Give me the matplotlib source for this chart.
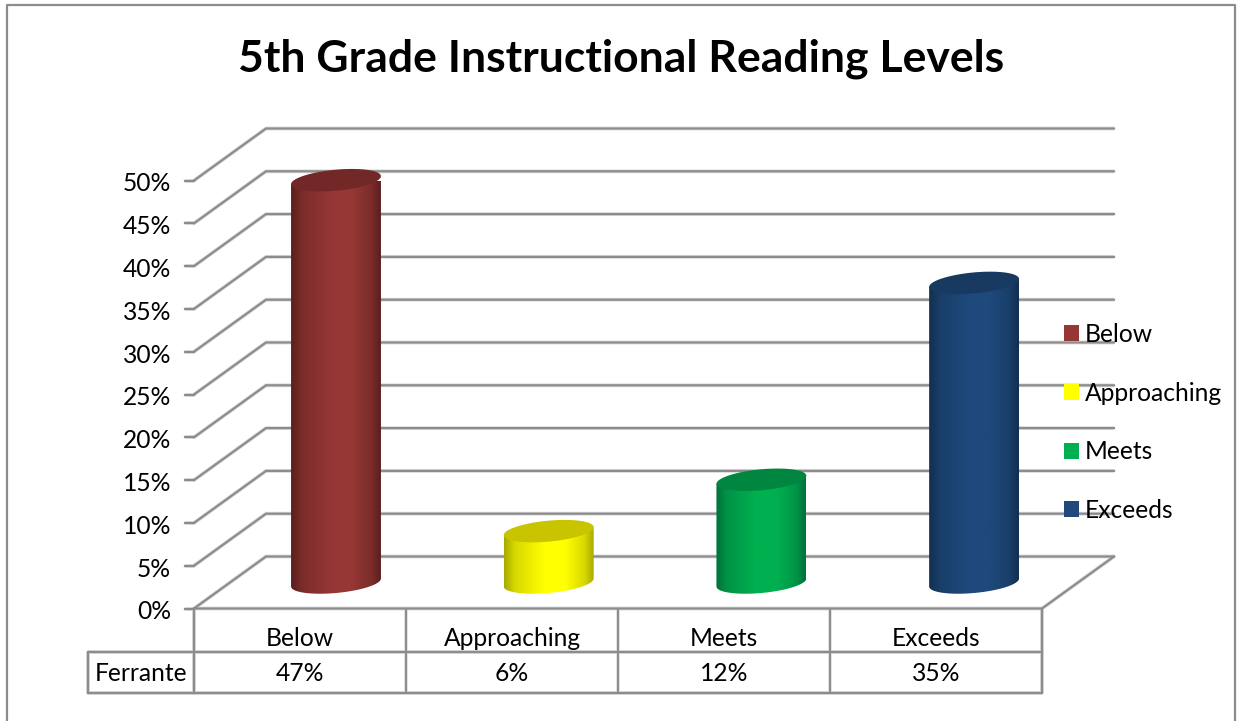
import numpy as np
import matplotlib
matplotlib.use('Agg')
import matplotlib.pyplot as plt
from matplotlib.colors import LinearSegmentedColormap, to_rgb
from matplotlib.lines import Line2D
from matplotlib.patches import Patch, Polygon

plt.rcParams['font.family'] = ['Lato', 'DejaVu Sans']

# Chart data
categories = ['Below', 'Approaching', 'Meets', 'Exceeds']
values = [47, 6, 12, 35]
series_name = 'Ferrante'
y_ticks = [0, 5, 10, 15, 20, 25, 30, 35, 40, 45, 50]

# Colours per bar: body edge, body centre, top cap
edge_colors = ['#5a1f1d', '#a8a800', '#00703a', '#12304f']
mid_colors = ['#953735', '#ffff00', '#00b050', '#1f497d']
top_colors = ['#722826', '#c8c400', '#00863f', '#193a60']

GRID = '#8c8c8c'
W, H = 1243, 721
FONT = 17.7

# Depth of the fake 3D box, in data units
DEPTH_X = 72 / 212
DEPTH_Y = 52 / 8.56
ROW_1 = -43 / 8.56
ROW_2 = -84 / 8.56

fig = plt.figure(figsize=(W / 100, H / 100), dpi=100)
fig.patch.set_facecolor('white')

# Chart area border, the bottom edge is cut off in the picture
fig.add_artist(Line2D([6.5 / W, 6.5 / W, 1235 / W, 1235 / W],
                      [0, 1 - 5 / H, 1 - 5 / H, 0], color='#8c8c8c', lw=1.6))

# Front plane of the box: 0% at y=608 and 50% at y=180, four categories wide
ax = fig.add_axes([194 / W, 1 - 608.5 / H, 848 / W, 428 / H])
ax.axis('off')


def line(xs, ys, lw=1.6, color=GRID, z=2):
    # Soft shadow under each line, then the line itself
    ax.plot(xs, ys, color='#dddddd', lw=lw + 1.2, clip_on=False, zorder=z - 0.1,
            solid_capstyle='butt')
    ax.plot(xs, ys, color=color, lw=lw, clip_on=False, zorder=z,
            solid_capstyle='projecting')


def blend(c1, c2, f):
    return tuple(np.array(to_rgb(c1)) * (1 - f) + np.array(to_rgb(c2)) * f)


# Walls and gridlines
for v in y_ticks:
    line([0, DEPTH_X, 4 + DEPTH_X], [v, v + DEPTH_Y, v + DEPTH_Y])
    line([-9 / 212, 0], [v, v])
    ax.text(-23 / 212, v - 0.4, f'{v}%', ha='right', va='center', fontsize=FONT,
            color='black', clip_on=False)
line([0, 4, 4 + DEPTH_X], [0, 0, DEPTH_Y])

# Cylinders
HALF = 0.212
CAP_B = 10.5 / 8.56
CAP_S = 4 / 8.56
t = np.linspace(0, 2 * np.pi, 120)
low = np.linspace(np.pi, 2 * np.pi, 60)
grad = np.linspace(0, 1, 256).reshape(1, -1)

for i, v in enumerate(values):
    cx = 0.5 + DEPTH_X / 2 + i * 212.7 / 212
    base = DEPTH_Y / 2
    top = base + v
    # Outline of the body: down the left side, under the base, up the right side
    bx = cx + HALF * np.cos(low)
    by = base + CAP_B * np.sin(low) + CAP_S * np.cos(low)
    body = np.column_stack([np.r_[cx - HALF, bx, cx + HALF],
                            np.r_[top - CAP_S, by, top + CAP_S]])
    shoulder = blend(edge_colors[i], mid_colors[i], 0.55)
    cmap = LinearSegmentedColormap.from_list(
        'body', [(0, edge_colors[i]), (0.12, shoulder), (0.45, mid_colors[i]),
                 (0.68, mid_colors[i]), (0.9, shoulder), (1, edge_colors[i])])
    im = ax.imshow(grad, extent=[cx - HALF, cx + HALF, by.min(), top + CAP_S + 0.1],
                   cmap=cmap, aspect='auto', zorder=3, interpolation='bilinear')
    clip = Polygon(body, closed=True, transform=ax.transData, fc='none', ec='none')
    ax.add_patch(clip)
    im.set_clip_path(clip)
    # Top cap
    ax.fill(cx + HALF * np.cos(t), top + CAP_B * np.sin(t) + CAP_S * np.cos(t),
            color=top_colors[i], lw=0, zorder=4, clip_on=False)

# Data table under the plot
for x in range(5):
    line([x, x], [0, ROW_2], lw=1.6 if x in (0, 4) else 1.4)
line([-106 / 212, 4], [ROW_1, ROW_1])
line([-106 / 212, 4], [ROW_2, ROW_2])
line([-106 / 212, -106 / 212], [ROW_1, ROW_2])
for i, name in enumerate(categories):
    ax.text(i + 0.5, ROW_1 / 2 - 1.0, name, ha='center', va='center', fontsize=FONT,
            clip_on=False)
    ax.text(i + 0.5, (ROW_1 + ROW_2) / 2 - 0.2, f'{values[i]}%', ha='center', va='center',
            fontsize=FONT, clip_on=False)
ax.text(-53 / 212, (ROW_1 + ROW_2) / 2 - 0.2, series_name, ha='center', va='center',
        fontsize=FONT, clip_on=False)

ax.set_xlim(0, 4)
ax.set_ylim(0, 50)

# Legend
handles = [Patch(facecolor=c, edgecolor='none') for c in mid_colors]
fig.legend(handles, categories, loc='upper left', bbox_to_anchor=(1064 / W, 1 - 323 / H),
           frameon=False, fontsize=FONT, handlelength=0.61, handleheight=0.61,
           handletextpad=0.24, labelspacing=1.45, borderpad=0, borderaxespad=0)

fig.text(621 / W, 1 - 59 / H, '5th Grade Instructional Reading Levels', ha='center',
         va='center', fontsize=32, fontweight='bold', color='black')

fig.savefig('out.png', dpi=100)
